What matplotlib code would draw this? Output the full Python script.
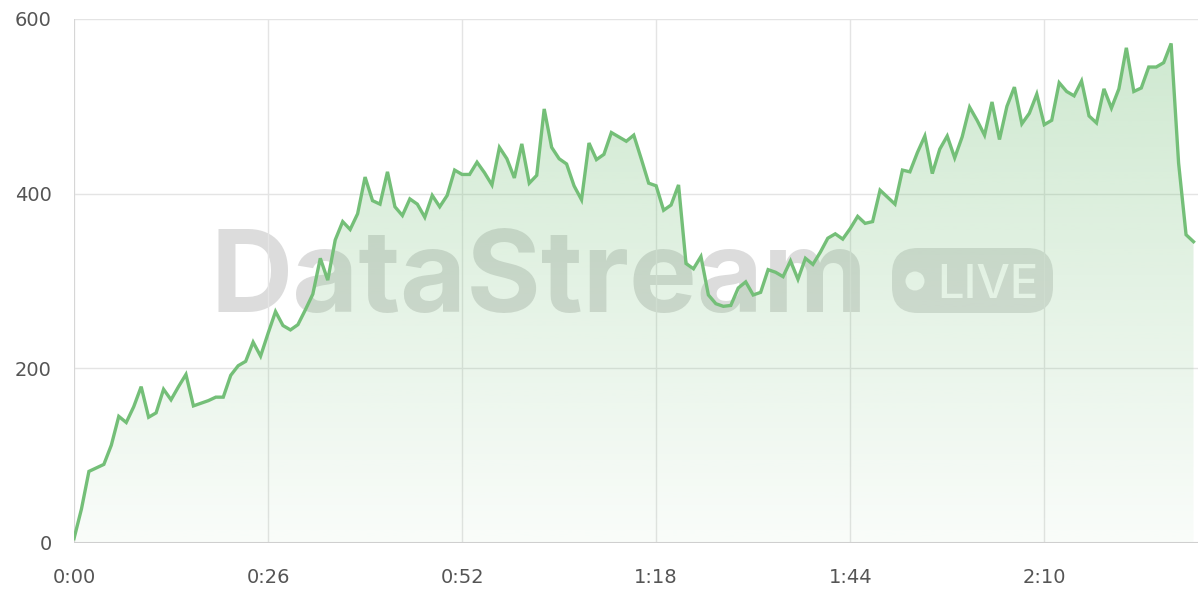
import numpy as np
import matplotlib
matplotlib.use("Agg")
import matplotlib.pyplot as plt
from matplotlib.patches import FancyBboxPatch, Circle

# one reading per second
values = [5, 39, 82, 86, 90, 112, 145, 138, 156, 179,
          144, 149, 176, 164, 179, 193, 157, 160, 163, 167,
          167, 192, 203, 208, 230, 214, 240, 265, 249, 244,
          250, 267, 285, 326, 301, 347, 368, 359, 377, 419,
          392, 388, 425, 385, 375, 394, 388, 373, 398, 385,
          398, 427, 422, 422, 436, 424, 410, 453, 440, 418,
          457, 412, 421, 497, 453, 440, 434, 409, 393, 458,
          439, 445, 470, 465, 460, 467, 440, 412, 409, 381,
          387, 410, 320, 314, 328, 284, 274, 271, 272, 292,
          299, 284, 287, 313, 310, 305, 323, 302, 326, 319,
          333, 349, 354, 348, 360, 374, 366, 368, 404, 396,
          388, 427, 425, 447, 466, 423, 451, 466, 441, 465,
          499, 484, 467, 505, 462, 500, 522, 480, 492, 514,
          479, 484, 527, 517, 512, 529, 489, 481, 520, 498,
          520, 567, 517, 521, 545, 545, 550, 572, 435, 353,
          345]
seconds = list(range(len(values)))

x_ticks = [0, 26, 52, 78, 104, 130]
x_labels = ["0:00", "0:26", "0:52", "1:18", "1:44", "2:10"]
y_ticks = [0, 200, 400, 600]

line_color = "#74bf78"

fig = plt.figure(figsize=(12, 6), dpi=100, facecolor="white")

# watermark on a pixel-space axes behind the chart
bg = fig.add_axes([0, 0, 1, 1], zorder=0)
bg.set_xlim(0, 1200)
bg.set_ylim(600, 0)
bg.axis("off")
bg.text(211, 312, "DataStream", ha="left", va="baseline", fontsize=82,
        fontweight="bold", family="Inter", color="#dcdcdc")
bg.add_patch(FancyBboxPatch((892, 248), 161, 65,
                            boxstyle="round,pad=0,rounding_size=26",
                            facecolor="#dfdfdf", edgecolor="none"))
bg.add_patch(Circle((915, 281), 9.5, facecolor="white", edgecolor="none"))
bg.text(937, 298, "LIVE", ha="left", va="baseline", fontsize=34,
        fontweight="medium", family="Inter", color="white")

ax = fig.add_axes([74 / 1200, 57 / 600, 1124 / 1200, 524 / 600], zorder=1)
ax.set_facecolor("none")

# grid
for t in x_ticks:
    ax.axvline(t, color="#e4e4e4", lw=1, zorder=0)
for t in y_ticks:
    ax.axhline(t, color="#e4e4e4", lw=1, zorder=0)
ax.axvline(0, color="#d4d4d4", lw=1.2, zorder=0)
ax.axhline(0, color="#cfcfcf", lw=1.5, zorder=4)

# gradient fill under the line
poly = ax.fill_between(seconds, values, 0, color="none", zorder=2)
grad = np.linspace(0.04, 0.36, 256).reshape(-1, 1)
rgba = np.zeros((256, 1, 4))
rgba[..., 0] = 116 / 255
rgba[..., 1] = 191 / 255
rgba[..., 2] = 120 / 255
rgba[..., 3] = grad
img = ax.imshow(rgba, extent=[0, seconds[-1], 0, 600], origin="lower",
                aspect="auto", zorder=2, interpolation="bilinear")
img.set_clip_path(poly.get_paths()[0], transform=ax.transData)

ax.plot(seconds, values, color=line_color, lw=2.4, zorder=3, solid_joinstyle="miter")

ax.set_xlim(0, 150.6)
ax.set_ylim(0, 600)
ax.set_xticks(x_ticks)
ax.set_xticklabels(x_labels)
ax.set_yticks(y_ticks)
ax.tick_params(length=0, labelsize=14, labelcolor="#555555")
ax.tick_params(axis="x", pad=18)
ax.tick_params(axis="y", pad=16)
for s in ax.spines.values():
    s.set_visible(False)

fig.savefig("out.png", dpi=100, facecolor="white")
